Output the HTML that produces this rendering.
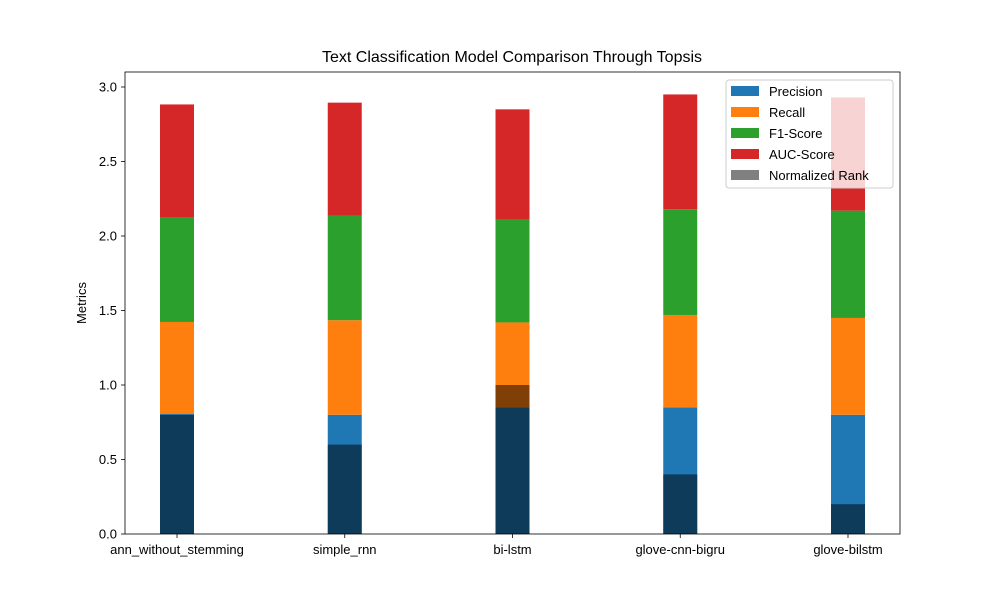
<!DOCTYPE html>
<html><head><meta charset="utf-8"><style>
body{margin:0;background:#fff}
svg text{font-family:"Liberation Sans","DejaVu Sans",sans-serif;fill:#000}
</style></head><body>
<svg id="chart" width="1000" height="600"></svg>
<script>
const categories=["ann_without_stemming","simple_rnn","bi-lstm","glove-cnn-bigru","glove-bilstm"];
const precision=[0.805,0.80,0.85,0.85,0.80];
const recall=[0.618,0.635,0.57,0.62,0.65];
const f1=[0.70,0.70,0.69,0.71,0.72];
const auc=[0.76,0.76,0.74,0.77,0.76];
const rank=[0.8,0.6,1.0,0.4,0.2];
const yTicks=[0,0.5,1.0,1.5,2.0,2.5,3.0];
const seriesNames=["Precision","Recall","F1-Score","AUC-Score"];
const colors=["#1f77b4","#ff7f0e","#2ca02c","#d62728"];
const L=125,R=900,T=72,B=534;
function yy(v){return 534-v*149;}
function xc(i){return 177+i*167.75;}
const W=34;
const svg=document.getElementById('chart');
const NS="http://www.w3.org/2000/svg";
function mk(t,a,txt){const e=document.createElementNS(NS,t);for(const k in a)e.setAttribute(k,a[k]);if(txt!==undefined)e.textContent=txt;svg.appendChild(e);return e;}
const series=[precision,recall,f1,auc];
categories.forEach((c,i)=>{
  let base=0;
  series.forEach((s,j)=>{
    const r=mk('rect',{x:xc(i)-W/2,y:yy(base+s[i]),width:W,height:s[i]*149,fill:colors[j]});
    
    
    base+=s[i];
  });
  const rr=mk('rect',{x:xc(i)-W/2,y:yy(rank[i]),width:W,height:rank[i]*149,fill:"#000","fill-opacity":0.5});
  
  
  mk('line',{x1:xc(i),x2:xc(i),y1:B,y2:B+4,stroke:"#000","stroke-width":0.8});
  const t=mk('text',{x:xc(i),y:B+20,"text-anchor":"middle","font-size":13},c);
  
  
});
yTicks.forEach(v=>{
  mk('line',{x1:L-4,x2:L,y1:yy(v),y2:yy(v),stroke:"#000","stroke-width":0.8});
  const t=mk('text',{x:L-8,y:yy(v)+4.5,"text-anchor":"end","font-size":13},v.toFixed(1));
  
  
});
const ax=mk('rect',{x:L,y:T,width:R-L,height:B-T,fill:"none",stroke:"#000","stroke-width":0.8});


const ttl=mk('text',{x:512,y:62,"text-anchor":"middle","font-size":16},"Text Classification Model Comparison Through Topsis");


const yl=mk('text',{x:0,y:0,"text-anchor":"middle","font-size":13,transform:"translate(86,303) rotate(-90)"},"Metrics");


const lg=mk('rect',{x:726,y:80,width:167,height:108,rx:3,fill:"#fff","fill-opacity":0.8,stroke:"#ccc"});


const lnames=seriesNames.concat(["Normalized Rank"]);
const lcols=colors.concat(["#808080"]);
lnames.forEach((n,k)=>{
  const yk=91+k*21;
  mk('rect',{x:731,y:yk-5,width:28,height:10,fill:lcols[k]});
  const t=mk('text',{x:769,y:yk+5,"font-size":13},n);
  
  
});
</script>
</body></html>
